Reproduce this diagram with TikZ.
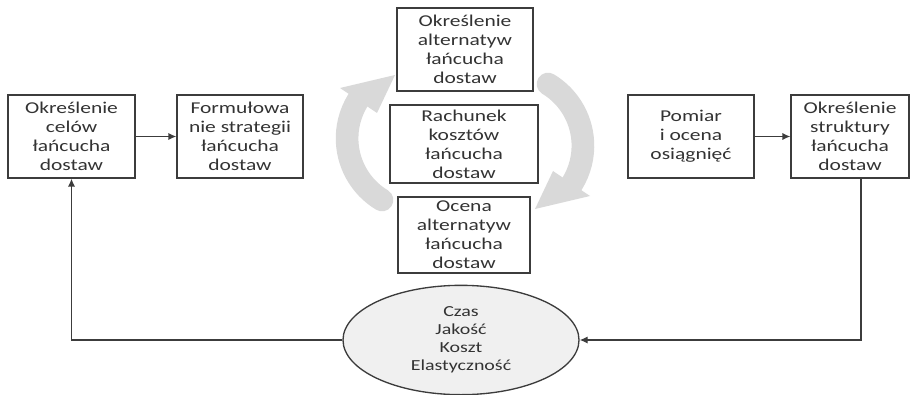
\documentclass[tikz,border=0pt]{standalone}
\usepackage{fontspec}
\setmainfont{Carlito}[FakeStretch=1.3]
\usetikzlibrary{arrows.meta,shapes.geometric}
\definecolor{szary}{RGB}{217,217,217}
\definecolor{tlo}{RGB}{240,240,240}
\definecolor{linia}{RGB}{60,60,60}

\tikzset{
  etap/.style={draw=linia,line width=1pt,fill=white,align=center,inner sep=0pt,text=black!80,
    font=\fontsize{12.4}{14.25}\selectfont},
  strzalka/.style={draw=linia,line width=1pt,-{Latex[length=6pt,width=5.5pt]}},
  obieg/.style={draw=szary,line width=17pt,line cap=round},
  grot/.style={fill=szary,draw=none}
}

\begin{document}
\begin{tikzpicture}[x=0.75pt,y=0.75pt,yscale=-1,xscale=1]
\useasboundingbox (0,0) rectangle (912,395);

%Circular arrows
\draw [obieg] (382,200) arc [start angle=121, end angle=216, radius=72] ;
\fill [grot] (340,88) -- (395,75) -- (377,113) -- cycle ;
\draw [obieg] (548,84) arc [start angle=301, end angle=396, radius=72] ;
\fill [grot] (590,196) -- (535,209) -- (553,171) -- cycle ;

%Shape: Rectangles
\node [etap, minimum width=95.25pt, minimum height=62.25pt] (cele) at (71.5,136.5) {Określenie\\celów\\łańcucha\\dostaw};
\node [etap, minimum width=94.5pt, minimum height=62.25pt] (strategia) at (240,136.5) {Formułowa\\nie strategii\\łańcucha\\dostaw};
\node [etap, minimum width=102pt, minimum height=62.25pt] (alternatywy) at (465,49.5) {Określenie\\alternatyw\\łańcucha\\dostaw};
\node [etap, minimum width=111pt, minimum height=58.5pt] (rachunek) at (464,144) {Rachunek\\kosztów\\łańcucha\\dostaw};
\node [etap, minimum width=99pt, minimum height=57pt] (ocena) at (464,235) {Ocena\\alternatyw\\łańcucha\\dostaw};
\node [etap, minimum width=94.5pt, minimum height=62.25pt] (pomiar) at (691,136.5) {Pomiar\\i ocena\\osiągnięć};
\node [etap, minimum width=88.5pt, minimum height=62.25pt] (struktura) at (850,136.5) {Określenie\\struktury\\łańcucha\\dostaw};

%Shape: Ellipse
\node [etap, ellipse, fill=tlo, minimum width=177pt, minimum height=82pt,
  font=\fontsize{11.5}{13.5}\selectfont] (kryteria) at (461,340) {Czas\\Jakość\\Koszt\\Elastyczność};

%Straight Lines
\draw [strzalka] (cele) -- (strategia) ;
\draw [strzalka] (pomiar) -- (struktura) ;
\draw [strzalka] ([xshift=8.25pt]struktura.south) |- (kryteria.east) ;
\draw [strzalka] (kryteria.west) -| (cele.south) ;

\end{tikzpicture}
\end{document}
